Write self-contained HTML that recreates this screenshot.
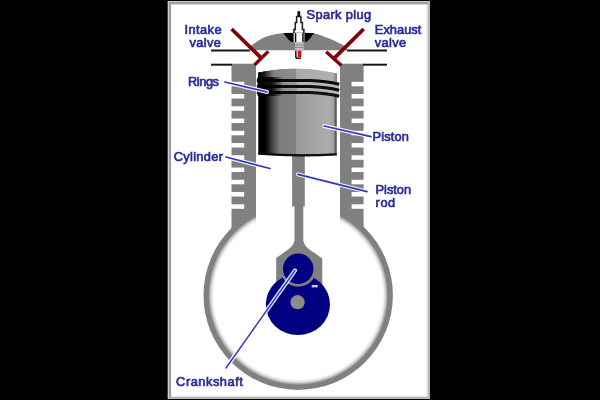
<!DOCTYPE html>
<html>
<head>
<meta charset="utf-8">
<title>Engine</title>
<style>
html,body{margin:0;padding:0;background:#000;width:600px;height:400px;overflow:hidden}
svg{display:block}
text{font-family:"Liberation Sans",sans-serif;font-size:12.8px;font-weight:normal;fill:#2c2c96;stroke:#2c2c96;stroke-width:0.68px}
</style>
</head>
<body>
<svg width="600" height="400" viewBox="0 0 600 400">
<defs>
<linearGradient id="pg" x1="0" y1="0" x2="1" y2="0">
<stop offset="0" stop-color="#000"/>
<stop offset="0.10" stop-color="#050505"/>
<stop offset="0.18" stop-color="#444444"/>
<stop offset="0.27" stop-color="#7c7c7c"/>
<stop offset="0.475" stop-color="#808080"/>
<stop offset="0.49" stop-color="#9a9a9a"/>
<stop offset="0.9" stop-color="#acacac"/>
<stop offset="0.96" stop-color="#a0a0a0"/>
<stop offset="0.985" stop-color="#5c5c5c"/>
<stop offset="1" stop-color="#404040"/>
</linearGradient>
<linearGradient id="pt" x1="0" y1="0" x2="1" y2="0">
<stop offset="0" stop-color="#000"/>
<stop offset="0.08" stop-color="#1c1c1c"/>
<stop offset="0.2" stop-color="#848484"/>
<stop offset="0.475" stop-color="#8c8c8c"/>
<stop offset="0.49" stop-color="#aaaaaa"/>
<stop offset="0.95" stop-color="#b0b0b0"/>
<stop offset="1" stop-color="#808080"/>
</linearGradient>
<linearGradient id="pr" x1="0" y1="0" x2="1" y2="0">
<stop offset="0" stop-color="#404040"/>
<stop offset="0.2" stop-color="#8a8a8a"/>
<stop offset="0.44" stop-color="#9a9a9a"/>
<stop offset="0.47" stop-color="#b4b4b4"/>
<stop offset="1" stop-color="#b8b8b8"/>
</linearGradient>
<linearGradient id="pl" x1="0" y1="0" x2="1" y2="0">
<stop offset="0" stop-color="#000" stop-opacity="1"/>
<stop offset="0.55" stop-color="#000" stop-opacity="0.85"/>
<stop offset="1" stop-color="#000" stop-opacity="0"/>
</linearGradient>
<radialGradient id="rg" cx="0.5" cy="0.5" r="0.5">
<stop offset="0" stop-color="#fff"/>
<stop offset="0.94" stop-color="#fff"/>
<stop offset="0.965" stop-color="#e2e2e2"/>
<stop offset="0.985" stop-color="#b4b4b4"/>
<stop offset="1" stop-color="#888888"/>
</radialGradient>
<clipPath id="boreclip"><path clip-rule="evenodd" d="M0,0 H600 V400 H0 Z M255.9,0 V224 H340.1 V0 Z"/></clipPath>
<clipPath id="domeclip"><rect x="240" y="20" width="120" height="31.5"/></clipPath>
<filter id="b2"><feGaussianBlur stdDeviation="0.35"/></filter>
<filter id="b3"><feGaussianBlur stdDeviation="0.4"/></filter>
<filter id="b1"><feGaussianBlur stdDeviation="0.45"/></filter>
</defs>
<rect x="0" y="0" width="600" height="400" fill="#000"/>
<!-- frame -->
<rect x="167.8" y="1.1" width="262.2" height="397.8" fill="#b4b4b4"/>
<rect x="167.8" y="1.1" width="262.2" height="1.1" fill="#c8c8c8"/>
<rect x="167.8" y="1.1" width="1.3" height="397.8" fill="#cecece"/>
<rect x="169.1" y="2.2" width="259" height="395" fill="#9c9c9c"/>
<rect x="171.2" y="4.5" width="257" height="392.8" fill="#dedede"/>
<rect x="428" y="2.2" width="2" height="396.7" fill="#b8b8b8"/>
<rect x="169.1" y="397.3" width="260.9" height="1.6" fill="#b8b8b8"/>
<rect x="171.2" y="4.6" width="255.4" height="391.3" fill="#fff"/>
<g filter="url(#b1)">
<!-- crankcase ring -->
<circle cx="298.2" cy="295.2" r="94.7" fill="#808080"/>
<rect x="256" y="190" width="84" height="36" fill="#fff"/>
<!-- walls -->
<rect x="231.5" y="63.7" width="24.5" height="170" fill="#808080"/>
<rect x="340" y="63.7" width="23.6" height="170" fill="#808080"/>
<circle cx="298.2" cy="295.2" r="89.7" fill="url(#rg)" clip-path="url(#boreclip)"/>
<!-- fins -->
<g fill="#fff">
<rect x="230" y="81.80" width="14.2" height="4.5"/><rect x="230" y="94.05" width="14.2" height="4.5"/><rect x="230" y="106.30" width="14.2" height="4.5"/><rect x="230" y="118.55" width="14.2" height="4.5"/><rect x="230" y="130.80" width="14.2" height="4.5"/><rect x="230" y="143.05" width="14.2" height="4.5"/><rect x="230" y="155.30" width="14.2" height="4.5"/><rect x="230" y="167.55" width="14.2" height="4.5"/><rect x="230" y="179.80" width="14.2" height="4.5"/><rect x="230" y="192.05" width="14.2" height="4.5"/><rect x="230" y="204.30" width="14.2" height="4.5"/>
<rect x="351.6" y="81.80" width="14" height="4.5"/><rect x="351.6" y="94.05" width="14" height="4.5"/><rect x="351.6" y="106.30" width="14" height="4.5"/><rect x="351.6" y="118.55" width="14" height="4.5"/><rect x="351.6" y="130.80" width="14" height="4.5"/><rect x="351.6" y="143.05" width="14" height="4.5"/><rect x="351.6" y="155.30" width="14" height="4.5"/><rect x="351.6" y="167.55" width="14" height="4.5"/><rect x="351.6" y="179.80" width="14" height="4.5"/><rect x="351.6" y="192.05" width="14" height="4.5"/><rect x="351.6" y="204.30" width="14" height="4.5"/>
</g>
<!-- head lines -->
<g stroke="#181818" stroke-width="2" stroke-linecap="butt">
<line x1="211" y1="50.5" x2="250" y2="50.5"/><line x1="347" y1="50.5" x2="387" y2="50.5"/>
<line x1="211" y1="64.7" x2="232" y2="64.7"/><line x1="363" y1="64.7" x2="387" y2="64.7"/>
</g>
<!-- dome -->
<path d="M247.5,50.3 L248.5,50 L252,45 L255,43 L260,39.6 L265,37.1 L270,35.5 L275,34.3 L280,33.5 L284,33 L299,32.5 L313.5,33 L315,33.5 L320,35 L325,37 L330,38.8 L335,41 L340,43.5 L343,45 L346,47.5 L348.5,50 L349.5,50.3 Z" fill="#808080"/>
<path d="M283.5,33 L314,33 Q309,40 306.5,42 L291.5,42 Q288,40 283.5,33 Z" fill="#000"/>
<!-- spark plug -->
<rect x="297.4" y="11" width="2.8" height="6" rx="1.2" fill="#111"/>
<path d="M296.6,16.5 H300.9 V22.5 H302.4 V29.5 H303.9 V33.5 H293.9 V29.5 H295.3 V22.5 H296.6 Z" fill="#fff" stroke="#1a1a1a" stroke-width="1.5"/>
<rect x="293.6" y="33" width="10.8" height="9" fill="#fff"/>
<rect x="294.8" y="33" width="1.5" height="9" fill="#111"/>
<rect x="302.2" y="33" width="1.5" height="9" fill="#111"/>
<rect x="295" y="42" width="8.6" height="8.5" fill="#bdbdbd"/>
<rect x="295" y="44.4" width="8.6" height="1" fill="#8a8a8a"/>
<rect x="295" y="47" width="8.6" height="1" fill="#8a8a8a"/>
<path d="M295.8,50.5 V56.5 Q295.8,58.3 297.6,58.3 H301" fill="none" stroke="#222" stroke-width="1.6"/>
<rect x="297.7" y="50.6" width="3.6" height="6.8" fill="#e01010"/>
<!-- valves -->
<g stroke="#800010" stroke-linecap="butt">
<line x1="231.6" y1="29" x2="261.4" y2="58.2" stroke-width="3.8"/><line x1="268.3" y1="51.4" x2="254.5" y2="65" stroke-width="3.4"/>
<line x1="363.7" y1="29" x2="333.8" y2="58.6" stroke-width="3.8"/><line x1="326.2" y1="51.8" x2="341.4" y2="65.5" stroke-width="3.4"/>
</g>
<!-- rod -->
<rect x="292.1" y="153" width="12.7" height="53.5" fill="#808080"/>
<rect x="294.5" y="206" width="8.8" height="37" fill="#808080"/>
<path d="M294.5,241 Q293.7,245 289.5,248.5 L276.2,258 V287 H322.3 V258.4 L308,248.5 Q304.2,245 303.3,241 Z" fill="#808080"/>
<!-- wheel -->
<ellipse cx="297.9" cy="304.5" rx="32.1" ry="30.6" fill="#000080"/>
<circle cx="298.2" cy="268.7" r="18" fill="#808080"/>
<circle cx="298.2" cy="268.7" r="15.2" fill="#000080"/>
<rect x="311.7" y="285" width="6" height="2.4" fill="#c8c8c8"/>
<circle cx="297.6" cy="302.2" r="7.1" fill="#8c8c8c"/>
<!-- piston -->
<path d="M258.3,72.6 Q297.5,64.4 336.7,73.4 V154.8 Q297.5,157.3 258.3,154.3 Z" fill="url(#pg)"/>
<path d="M258.3,72.6 Q297.5,64.4 336.7,73.4 V86 L310,80 H258.3 Z" fill="url(#pt)"/>
<path d="M262,80 H310 Q326,80.5 339,84 V96.5 Q326,93 310,92.6 H262 Z" fill="url(#pr)"/>
<g fill="none" stroke="#080808">
<path d="M256.8,80.4 H310 Q326,80.9 339.2,84.2" stroke-width="3"/>
<path d="M256.8,86.4 H310 Q326,86.9 339.2,90.2" stroke-width="3"/>
<path d="M256.8,92.5 H310 Q326,93 339.2,96.2" stroke-width="3.1"/>
<path d="M258.3,153.7 Q297.5,156.7 336.7,154.3" stroke-width="2.2"/>
</g>
<rect x="257.5" y="77" width="26" height="19" fill="url(#pl)"/>
</g>
<!-- label lines -->
<g stroke="#fff" stroke-width="4" stroke-linecap="round" opacity="0.9" filter="url(#b2)">
<line x1="225" y1="82" x2="267" y2="92"/>
<line x1="324" y1="126" x2="371" y2="136.6"/>
<line x1="226" y1="157" x2="270" y2="168.5"/>
<line x1="298" y1="174.4" x2="367" y2="191.6"/>
<line x1="295" y1="270.5" x2="226" y2="368"/>
</g>
<g stroke="#3434c4" stroke-width="1.7" stroke-linecap="round" filter="url(#b2)">
<line x1="225" y1="82" x2="267" y2="92"/>
<line x1="324" y1="126" x2="371" y2="136.6"/>
<line x1="226" y1="157" x2="270" y2="168.5"/>
<line x1="298" y1="174.4" x2="367" y2="191.6"/>
<line x1="295" y1="270.5" x2="226" y2="368" stroke-width="1.4"/>
</g>
<!-- labels -->
<g filter="url(#b3)">
<text x="184.5" y="33.8" textLength="37" lengthAdjust="spacing">Intake</text>
<text x="189.4" y="47" textLength="31.4" lengthAdjust="spacing">valve</text>
<text x="188" y="86" textLength="31" lengthAdjust="spacing">Rings</text>
<text x="306.5" y="19" textLength="64.5" lengthAdjust="spacing">Spark plug</text>
<text x="374.8" y="34.2" textLength="46.5" lengthAdjust="spacing">Exhaust</text>
<text x="374.8" y="47.2" textLength="31.2" lengthAdjust="spacing">valve</text>
<text x="372.6" y="141" textLength="36.2" lengthAdjust="spacing">Piston</text>
<text x="375.6" y="194.1" textLength="35.4" lengthAdjust="spacing">Piston</text>
<text x="375.6" y="207" textLength="19.6" lengthAdjust="spacing">rod</text>
<text x="173.7" y="160.8" textLength="49.3" lengthAdjust="spacing">Cylinder</text>
<text x="176.1" y="385.9" textLength="66.7" lengthAdjust="spacing">Crankshaft</text>
</g>
</svg>
</body>
</html>
